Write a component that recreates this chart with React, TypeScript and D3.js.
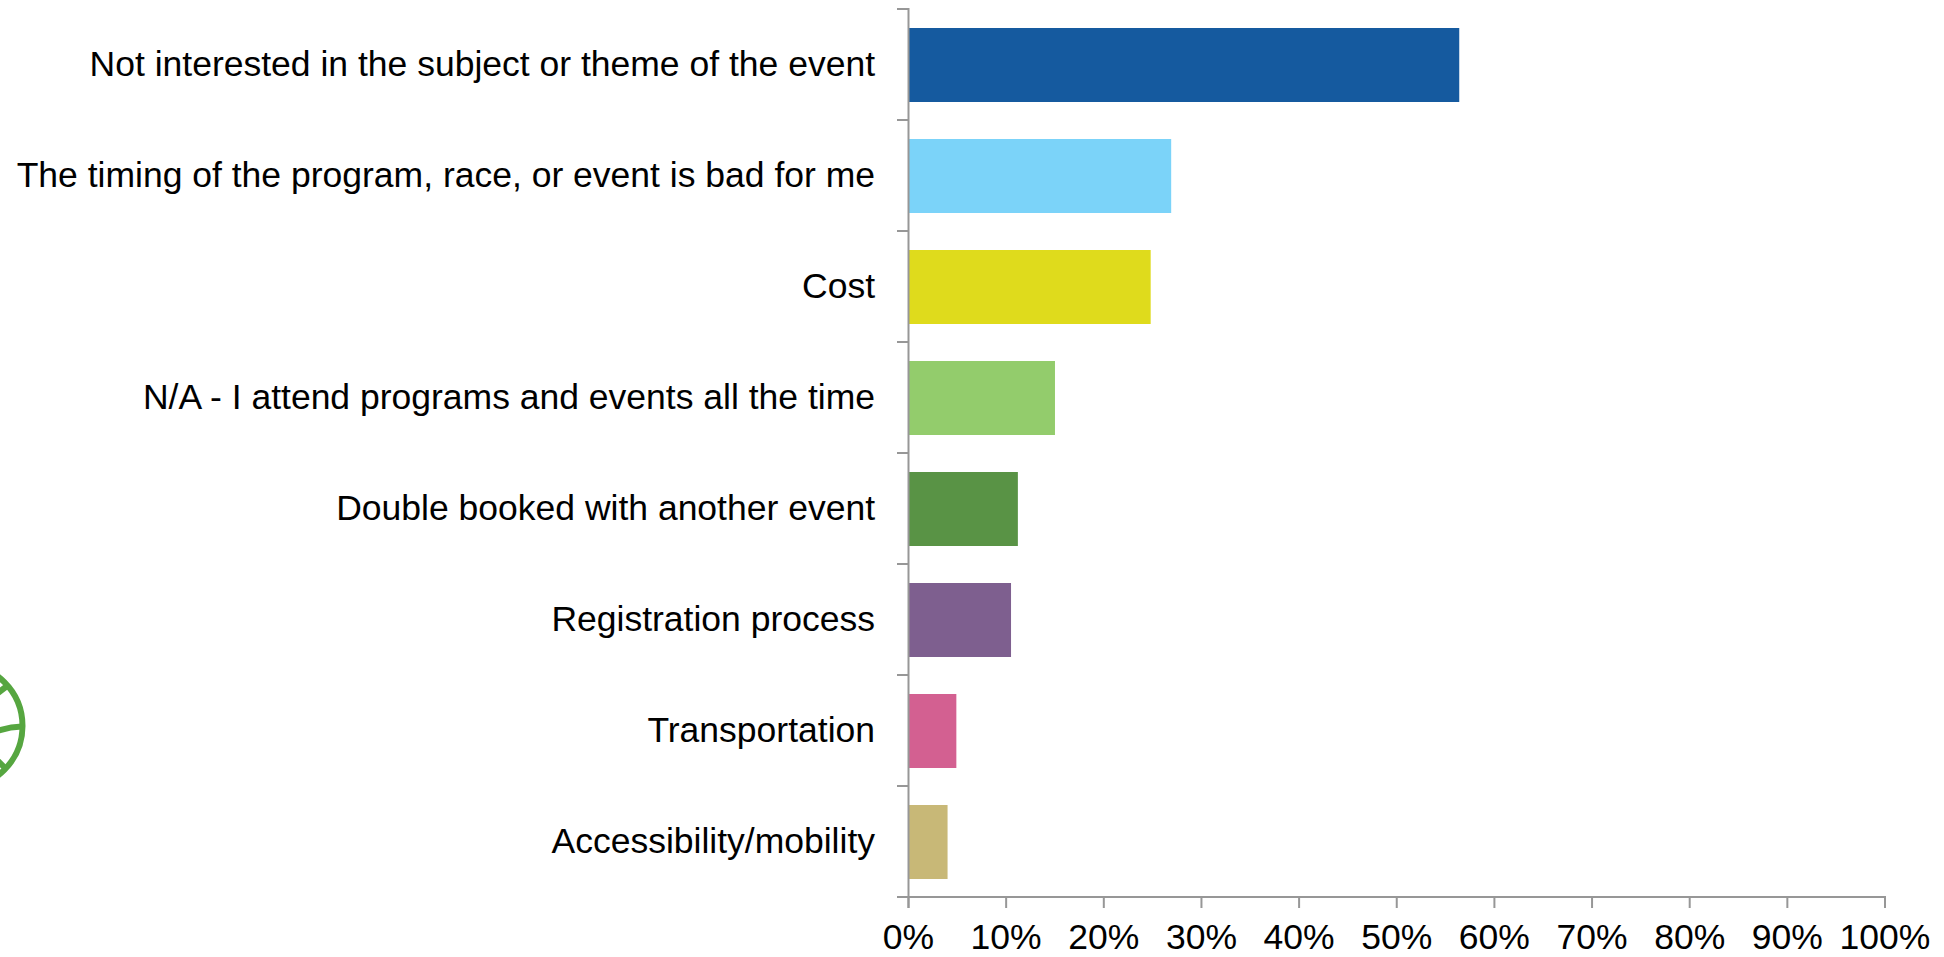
import React from "react";
import * as d3 from "d3";

const categories = [
  "Not interested in the subject or theme of the event",
  "The timing of the program, race, or event is bad for me",
  "Cost",
  "N/A - I attend programs and events all the time",
  "Double booked with another event",
  "Registration process",
  "Transportation",
  "Accessibility/mobility",
];
const values = [56.4, 26.9, 24.8, 15.0, 11.2, 10.5, 4.9, 4.0];
const colors = ["#155a9f", "#7bd3f9", "#dfdb1c", "#93cc6c", "#599345", "#7e5f8f", "#d36091", "#c8b877"];
const xTicks = [0, 10, 20, 30, 40, 50, 60, 70, 80, 90, 100];

const FONT = "'Liberation Sans', Arial, sans-serif";
const AXIS = "#979797";

export default function App() {
  const x = d3.scaleLinear().domain([0, 100]).range([908.5, 1885]);
  const y = d3.scaleBand<number>().domain(d3.range(categories.length)).range([9.5, 897.5]).paddingInner(1 / 3).paddingOuter(1 / 6);
  const band = (897 - 9) / categories.length;
  const yEdges = d3.range(categories.length + 1).map((i) => 9 + i * band);
  return (
    <svg width={1944} height={957} style={{ position: "absolute", left: 0, top: 0, background: "#fff" }}>
      <g fill="none" stroke="#56a640" strokeWidth={6}>
        <circle cx={-39.5} cy={726} r={62} />
        <path d="M-6,732 Q8,727 22,726.5" />
        <path d="M-6,696 L7,686" />
        <path d="M-6,757 L7,770" />
      </g>
      {categories.map((c, i) => (
        <rect key={c} x={x(0)} y={y(i)} width={x(values[i]) - x(0)} height={y.bandwidth()} fill={colors[i]} />
      ))}
      <g stroke={AXIS} strokeWidth={2} fill="none">
        <line x1={x(0)} x2={x(0)} y1={8} y2={908} />
        <line x1={897} x2={x(100) + 1} y1={897} y2={897} />
        {yEdges.map((t) => (
          <line key={t} x1={897} x2={x(0)} y1={t} y2={t} />
        ))}
        {xTicks.map((t) => (
          <line key={t} x1={x(t)} x2={x(t)} y1={897} y2={908} />
        ))}
      </g>
      <g fontFamily={FONT} fontSize={35.5} fill="#000">
        {categories.map((c, i) => (
          <text key={c} x={875} y={y(i)! + y.bandwidth() / 2 + 11} textAnchor="end">
            {c}
          </text>
        ))}
        {xTicks.map((t) => (
          <text key={t} x={x(t)} y={949} textAnchor="middle">
            {t}%
          </text>
        ))}
      </g>
    </svg>
  );
}
